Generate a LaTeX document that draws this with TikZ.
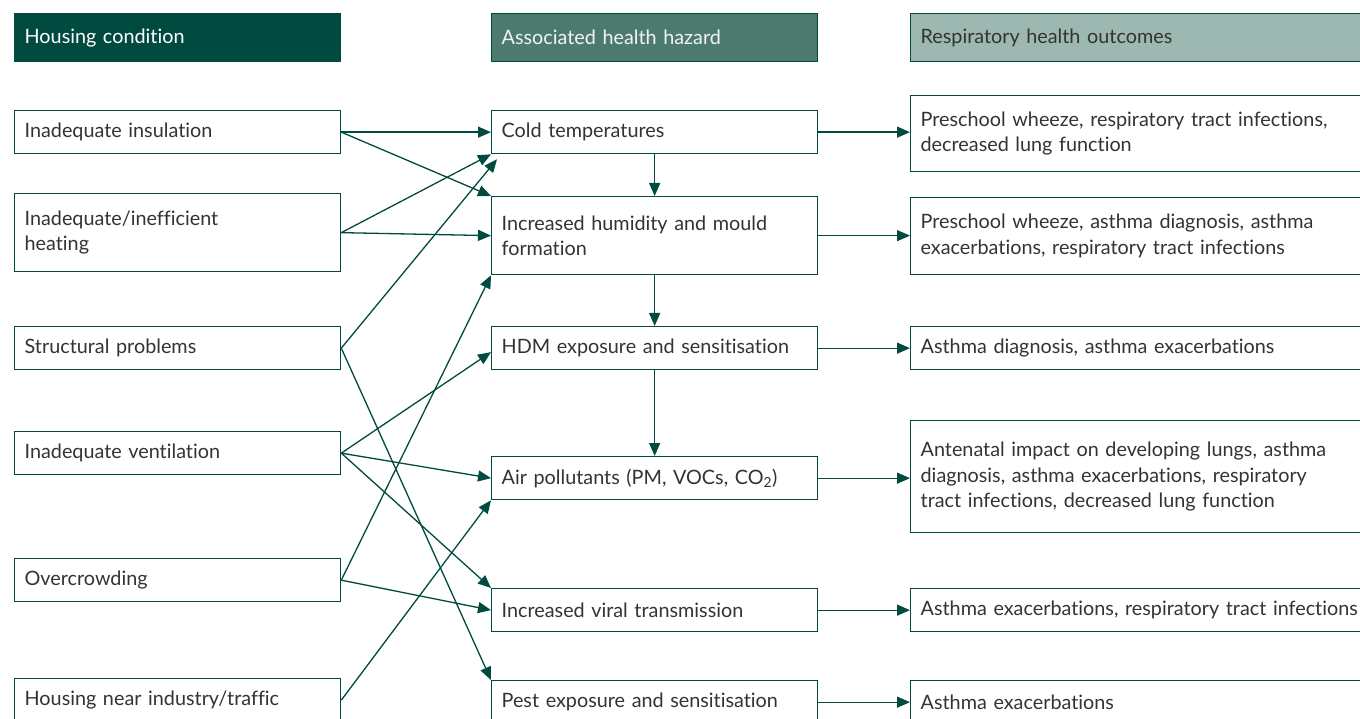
\documentclass[tikz,border=0pt]{standalone}
\usepackage{fontspec}
\setmainfont{Lato}[Ligatures=NoCommon]
\usetikzlibrary{arrows.meta,calc}
\definecolor{hcgreen}{HTML}{004A3F}
\definecolor{hzgreen}{HTML}{4D7A6F}
\definecolor{rsgreen}{HTML}{9DB8B1}
\definecolor{txtgrey}{HTML}{333333}
\tikzset{
  cell/.style={draw=hcgreen, line width=1.3pt, anchor=north west, inner xsep=10pt, inner ysep=0pt,
    align=left, text=txtgrey, font=\fontsize{19.8}{25.5}\selectfont, minimum height=43pt},
  colcell/.style={cell, text width=306pt},
  outcell/.style={cell, text width=440pt},
  headcell/.style={minimum height=48pt},
  link/.style={draw=hcgreen, line width=1.3pt, -{Triangle[length=13pt,width=11pt]}}
}

\begin{document}
\begin{tikzpicture}[x=1pt,y=-1pt]
		%%%%% START %%%%%
		\clip (0,0) rectangle (1360,719);
		
		% headers
		\node[colcell, headcell, fill=hcgreen, text=white] (hhousing) at (14,13) {Housing condition};
		\node[colcell, headcell, fill=hzgreen, text=white!92!hzgreen] (hhazard) at (491,13) {Associated health hazard};
		\node[outcell, headcell, fill=rsgreen] (houtcome) at (910,13) {Respiratory health outcomes};
		
		% housing condition
		\node[colcell] (insul) at (14,110) {Inadequate insulation};
		\node[colcell, minimum height=78pt] (heat) at (14,193) {Inadequate/inefficient\\heating};
		\node[colcell] (struct) at (14,326) {Structural problems};
		\node[colcell] (vent) at (14,431) {Inadequate ventilation};
		\node[colcell] (crowd) at (14,558) {Overcrowding};
		\node[colcell] (traffic) at (14,678) {Housing near industry/traffic};
		
		% health hazard
		\node[colcell] (cold) at (491,110) {Cold temperatures};
		\node[colcell, minimum height=78pt] (mould) at (491,196) {Increased humidity and mould\\formation};
		\node[colcell] (hdm) at (491,326) {HDM exposure and sensitisation};
		\node[colcell] (pollut) at (491,456) {Air pollutants (PM, VOCs, CO\textsubscript{2})};
		\node[colcell] (viral) at (491,588) {Increased viral transmission};
		\node[colcell] (pest) at (491,680) {Pest exposure and sensitisation};
		
		% outcomes
		\node[outcell, minimum height=76pt] (out1) at (910,95) {Preschool wheeze, respiratory tract infections,\\decreased lung function};
		\node[outcell, minimum height=77pt] (out2) at (910,197) {Preschool wheeze, asthma diagnosis, asthma\\exacerbations, respiratory tract infections};
		\node[outcell] (out3) at (910,326) {Asthma diagnosis, asthma exacerbations};
		\node[outcell, minimum height=112pt] (out4) at (910,420) {Antenatal impact on developing lungs, asthma\\diagnosis, asthma exacerbations, respiratory\\tract infections, decreased lung function};
		\node[outcell] (out5) at (910,588) {Asthma exacerbations, respiratory tract infections};
		\node[outcell] (out6) at (910,680) {Asthma exacerbations};
		
		% condition -> hazard
		\draw[link] (insul.east) -- (cold.west);
		\draw[link] (insul.east) -- (mould.north west);
		\draw[link] (heat.east) -- (cold.south west);
		\draw[link] (heat.east) -- (mould.west);
		\draw[link] (struct.east) -- ($(cold.south west)+(6,5)$);
		\draw[link] (struct.east) -- (pest.north west);
		\draw[link] (vent.east) -- ($(hdm.west)+(0,4)$);
		\draw[link] (vent.east) -- (pollut.west);
		\draw[link] (vent.east) -- (viral.north west);
		\draw[link] (crowd.east) -- (mould.south west);
		\draw[link] (crowd.east) -- (viral.west);
		\draw[link] (traffic.east) -- (pollut.south west);
		
		% hazard chain
		\draw[link] (cold.south) -- (mould.north);
		\draw[link] (mould.south) -- (hdm.north);
		\draw[link] (hdm.south) -- (pollut.north);
		
		% hazard -> outcome
		\draw[link] (cold.east) -- (cold.east -| out1.west);
		\draw[link] (mould.east) -- (mould.east -| out2.west);
		\draw[link] (hdm.east) -- (out3.west);
		\draw[link] (pollut.east) -- (pollut.east -| out4.west);
		\draw[link] (viral.east) -- (out5.west);
		\draw[link] (pest.east) -- (out6.west);
		
		%%%%% END %%%%%
	\end{tikzpicture}
\end{document}
